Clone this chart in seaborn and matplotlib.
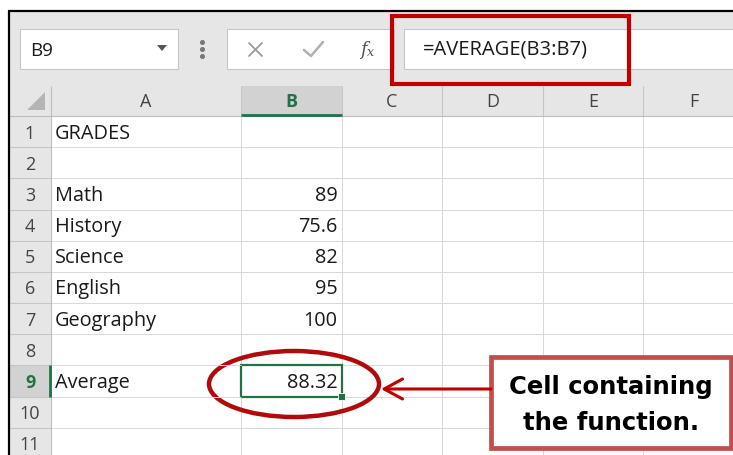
import numpy as np
import pandas as pd
import matplotlib.pyplot as plt
import matplotlib.patches as mpatches
from matplotlib.colors import ListedColormap
import seaborn as sns

# Sheet content
col_letters = ['A', 'B', 'C', 'D', 'E', 'F']
row_numbers = [str(i) for i in range(1, 12)]
title_cell = 'GRADES'
subjects = ['Math', 'History', 'Science', 'English', 'Geography']
grades = [89, 75.6, 82, 95, 100]
avg_label = 'Average'
avg_value = 88.32
name_box = 'B9'
formula = '=AVERAGE(B3:B7)'
callout_lines = ['Cell containing', 'the function.']

sheet = pd.DataFrame('', index=row_numbers, columns=col_letters)
sheet.loc['1', 'A'] = title_cell
for i, (s, g) in enumerate(zip(subjects, grades)):
    sheet.loc[str(i + 3), 'A'] = s
    sheet.loc[str(i + 3), 'B'] = f'{g:g}'
sheet.loc['9', 'A'] = avg_label
sheet.loc['9', 'B'] = f'{avg_value:.2f}'

# Screen layout (pixels of the 733x456 screenshot)
W, H = 733, 456
col_edges = [9, 51] + list(np.linspace(241, 744, 6))
row_edges = [87] + list(np.linspace(117, 460, 12))
green = '#217346'
hdr_gray = '#e6e6e6'
sel_gray = '#d2d2d2'
grid_c = '#d9d9d9'
sep_c = '#c6c6c6'
txt_c = '#1a1a1a'
cell_font = 'Open Sans'

sns.set_theme(style='white')
plt.rcParams['font.family'] = ['Open Sans', 'DejaVu Sans']

fig = plt.figure(figsize=(W / 100, H / 100), dpi=100)
fig.patch.set_facecolor('white')

# body cells B..F drawn as a blank heatmap grid
x0, x1 = col_edges[2], col_edges[-1]
y0, y1 = row_edges[1], row_edges[-1]
hm_ax = fig.add_axes([x0 / W, 1 - y1 / H, (x1 - x0) / W, (y1 - y0) / H])
sns.heatmap(np.zeros((len(row_numbers), len(col_letters) - 1)),
            cmap=ListedColormap(['white']), linewidths=0.6, linecolor=grid_c,
            cbar=False, xticklabels=False, yticklabels=False, ax=hm_ax)

# overlay in pixel coordinates
ax = fig.add_axes([0, 0, 1, 1], zorder=2)
ax.set_xlim(0, W)
ax.set_ylim(H, 0)
ax.patch.set_alpha(0)
ax.axis('off')

# toolbar + headers background
ax.add_patch(mpatches.Rectangle((9, 13), W, row_edges[1] - 13, color=hdr_gray, lw=0))
ax.add_patch(mpatches.Rectangle((9, row_edges[1]), col_edges[1] - 9, H, color=hdr_gray, lw=0))
ax.add_patch(mpatches.Rectangle((col_edges[1], row_edges[1]), col_edges[2] - col_edges[1], H,
                                color='white', lw=0))
# highlighted headers for the active cell
ax.add_patch(mpatches.Rectangle((col_edges[2], row_edges[0]), col_edges[3] - col_edges[2],
                                row_edges[1] - row_edges[0], color=sel_gray, lw=0))
ax.add_patch(mpatches.Rectangle((col_edges[0], row_edges[9]), col_edges[1] - col_edges[0],
                                row_edges[10] - row_edges[9], color=sel_gray, lw=0))

# column A grid lines
ax.hlines(row_edges[2:], col_edges[1], col_edges[2], color=grid_c, lw=0.7)
# header separators
ax.vlines(col_edges[2:-1], row_edges[0], row_edges[1], color=sep_c, lw=0.8)
ax.hlines(row_edges[2:], col_edges[0], col_edges[1], color=sep_c, lw=0.8)
ax.hlines(row_edges[1], col_edges[0], W, color='#bdbdbd', lw=0.8)
ax.vlines(col_edges[1], row_edges[0], H, color='#bdbdbd', lw=0.8)
ax.hlines(row_edges[1] - 1, col_edges[2], col_edges[3], color=green, lw=2)
ax.vlines(col_edges[1] - 1, row_edges[9], row_edges[10], color=green, lw=2)

# select-all corner
ax.add_patch(mpatches.Polygon([(45, 93), (45, 111), (27, 111)], color='#b5b5b5', lw=0))

# header labels
for j, c in enumerate(col_letters):
    cx = (col_edges[j + 1] + col_edges[j + 2]) / 2
    active = c == 'B'
    ax.text(cx, 102, c, ha='center', va='center', fontsize=13,
            color=green if active else '#444444', fontweight='bold' if active else 'normal',
            family=cell_font)
for i, r in enumerate(row_numbers):
    cy = (row_edges[i + 1] + row_edges[i + 2]) / 2 + 1
    active = r == '9'
    ax.text(30, cy, r, ha='center', va='center', fontsize=13,
            color=green if active else '#444444', fontweight='bold' if active else 'normal',
            family=cell_font)

# cell contents
for i, r in enumerate(row_numbers):
    cy = (row_edges[i + 1] + row_edges[i + 2]) / 2 + 1
    if sheet.loc[r, 'A']:
        ax.text(col_edges[1] + 4, cy, sheet.loc[r, 'A'], ha='left', va='center',
                fontsize=14.3, color=txt_c, family=cell_font)
    if sheet.loc[r, 'B']:
        ax.text(col_edges[3] - 4, cy, sheet.loc[r, 'B'], ha='right', va='center',
                fontsize=14.3, color=txt_c, family=cell_font)

# active cell frame + fill handle
ax.add_patch(mpatches.Rectangle((col_edges[2], row_edges[9]), col_edges[3] - col_edges[2],
                                row_edges[10] - row_edges[9], fill=False, ec=green, lw=1.6))
ax.add_patch(mpatches.Rectangle((col_edges[3] - 4, row_edges[10] - 4), 7, 7,
                                fc=green, ec='white', lw=0.6))

# name box
ax.add_patch(mpatches.Rectangle((20, 30), 158, 40, fc='white', ec=sep_c, lw=0.8))
ax.text(30, 51, name_box, ha='left', va='center', fontsize=13.5, color=txt_c,
        family=cell_font)
ax.add_patch(mpatches.Polygon([(157, 46), (167, 46), (162, 52)], color='#555555', lw=0))
ax.plot([202, 202, 202], [43, 50, 57], 'o', ms=2.6, color='#777777')

# formula bar buttons
ax.add_patch(mpatches.Rectangle((227, 30), 167, 40, fc='white', ec=sep_c, lw=0.8))
ax.plot([249, 262], [44, 57], color='#9a9a9a', lw=1.3)
ax.plot([249, 262], [57, 44], color='#9a9a9a', lw=1.3)
ax.plot([304, 311, 323], [51, 57, 43], color='#b0b0b0', lw=1.8)
ax.text(360, 50, 'f', ha='left', va='center', fontsize=13, style='italic',
        family='DejaVu Serif', color='#555555')
ax.text(367, 53, 'x', ha='left', va='center', fontsize=9, style='italic',
        family='DejaVu Serif', color='#555555')

# formula entry
ax.add_patch(mpatches.Rectangle((404, 30), 340, 40, fc='white', ec=sep_c, lw=0.8))
ax.text(423, 50, formula, ha='left', va='center', fontsize=14.5, color=txt_c,
        family=cell_font)
ax.add_patch(mpatches.Rectangle((392, 17), 237, 68, fill=False, ec='#c00000', lw=3))

# window frame
ax.hlines(12, 8, W, color='black', lw=1.6)
ax.vlines(8.5, 12, H, color='black', lw=1.6)

# annotation: ellipse, arrow and callout
ax.add_patch(mpatches.Ellipse((294, 385), 170, 66, fill=False, ec='#b00a0a', lw=3.2))
ax.annotate('', xy=(381, 390), xytext=(491, 390),
            arrowprops=dict(arrowstyle='->,head_length=1.1,head_width=0.6',
                            color='#c00000', lw=2.2, shrinkA=0, shrinkB=0))
ax.add_patch(mpatches.Rectangle((491, 358), 240, 91, fc='white', ec='#c0504d', lw=3.4))
for k, line in enumerate(callout_lines):
    ax.text(611, 387 + 36 * k, line, ha='center', va='center', fontsize=17.5,
            fontweight='heavy', family='DejaVu Sans', color='black')

fig.savefig('out.png', dpi=100)
